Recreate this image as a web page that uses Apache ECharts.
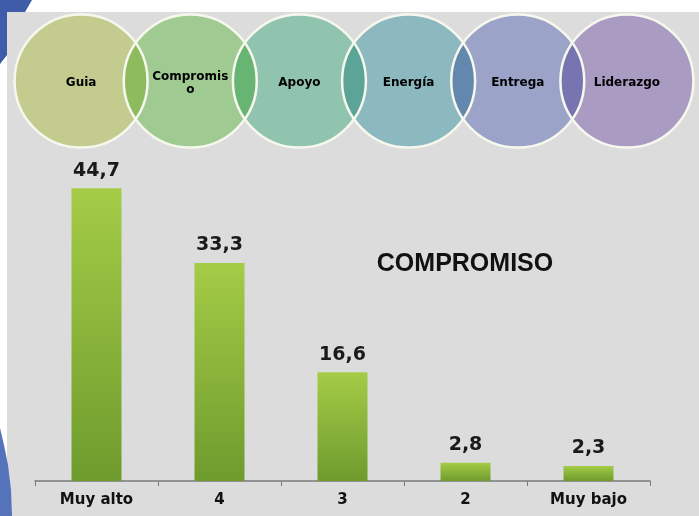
<!DOCTYPE html>
<html>
<head>
<meta charset="utf-8">
<script src="https://cdn.jsdelivr.net/npm/echarts@6/dist/echarts.min.js"></script>
<style>html,body{margin:0;padding:0;background:#fff}#c{width:699px;height:516px}</style>
</head>
<body>
<div id="c"></div>
<script>
const categories = ['Muy alto', '4', '3', '2', 'Muy bajo'];
const values = [44.7, 33.3, 16.6, 2.8, 2.3];
const valueLabels = ['44,7', '33,3', '16,6', '2,8', '2,3'];
const circleNames = ['Guia', 'Compromis\no', 'Apoyo', 'Energía', 'Entrega', 'Liderazgo'];
const circleColors = ['#e3eca5', '#b9eba8', '#a7e3ca', '#a2d6de', '#b4bde8', '#c5b4e2'];
const chartTitle = 'COMPROMISO';

const chart = echarts.init(document.getElementById('c'), null, {renderer: 'canvas'});
const greenGrad = new echarts.graphic.LinearGradient(0, 0, 0, 1, [
  {offset: 0, color: '#a5cc47'},
  {offset: 1, color: '#6e9b2d'}
]);
chart.setOption({
  backgroundColor: '#ffffff',
  animation: false,
  title: {
    text: chartTitle,
    left: 460, top: 247, textAlign: 'center',
    textStyle: {fontFamily: 'Liberation Sans', fontWeight: 'bold', fontSize: 25, color: '#111'}
  },
  graphic: [
    {type: 'rect', z: -10, shape: {x: 7, y: 12, width: 692, height: 504}, style: {fill: '#dcdcdc'}},
    {type: 'polygon', z: -9, shape: {points: [[0,0],[32,0],[25,12],[7,12],[7,55],[0,64]]}, style: {fill: '#3f5ca8'}},
    {type: 'polygon', z: -9, shape: {points: [[0,428],[4,445],[8,465],[11,490],[12,516],[0,516]]}, style: {fill: '#5573bb'}}
  ],
  grid: [
    {left: 35, width: 615, top: 153.5, height: 327.5},
    {left: 26.5, width: 655, top: 71, height: 20}
  ],
  xAxis: [
    {
      type: 'category', gridIndex: 0, data: categories,
      axisLine: {lineStyle: {color: '#7a7a7a', width: 1.5}},
      axisTick: {show: true, length: 5, lineStyle: {color: '#7a7a7a'}},
      axisLabel: {margin: 12, fontFamily: 'DejaVu Sans', fontWeight: 'bold', fontSize: 15, color: '#111'}
    },
    {type: 'category', gridIndex: 1, data: circleNames, show: false}
  ],
  yAxis: [
    {type: 'value', gridIndex: 0, min: 0, max: 50, show: false, splitLine: {show: false}},
    {type: 'value', gridIndex: 1, min: -1, max: 1, show: false, splitLine: {show: false}}
  ],
  series: [
    {
      type: 'bar', xAxisIndex: 0, yAxisIndex: 0, data: values, barWidth: 50,
      itemStyle: {color: greenGrad},
      label: {
        show: true, position: 'top', distance: 8,
        formatter: p => valueLabels[p.dataIndex],
        fontFamily: 'DejaVu Sans', fontWeight: 'bold', fontSize: 19, color: '#1a1a1a'
      }
    },
    {
      type: 'scatter', xAxisIndex: 1, yAxisIndex: 1, symbolSize: 133,
      blendMode: 'multiply', silent: true,
      data: circleNames.map((n, i) => ({value: [i, 0], itemStyle: {color: circleColors[i], opacity: 1}})),
      z: 3
    },
    {
      type: 'scatter', xAxisIndex: 1, yAxisIndex: 1, symbolSize: 133, silent: true,
      data: circleNames.map((n, i) => [i, 0]),
      itemStyle: {color: 'rgba(0,0,0,0)', borderColor: '#f6f8ee', borderWidth: 2.5, opacity: 1},
      label: {
        show: true, position: 'inside', offset: [0, 2],
        formatter: p => circleNames[p.dataIndex],
        fontFamily: 'DejaVu Sans', fontWeight: 'bold', fontSize: 12, lineHeight: 13, color: '#000', opacity: 1
      },
      z: 4
    }
  ]
});
</script>
</body>
</html>
